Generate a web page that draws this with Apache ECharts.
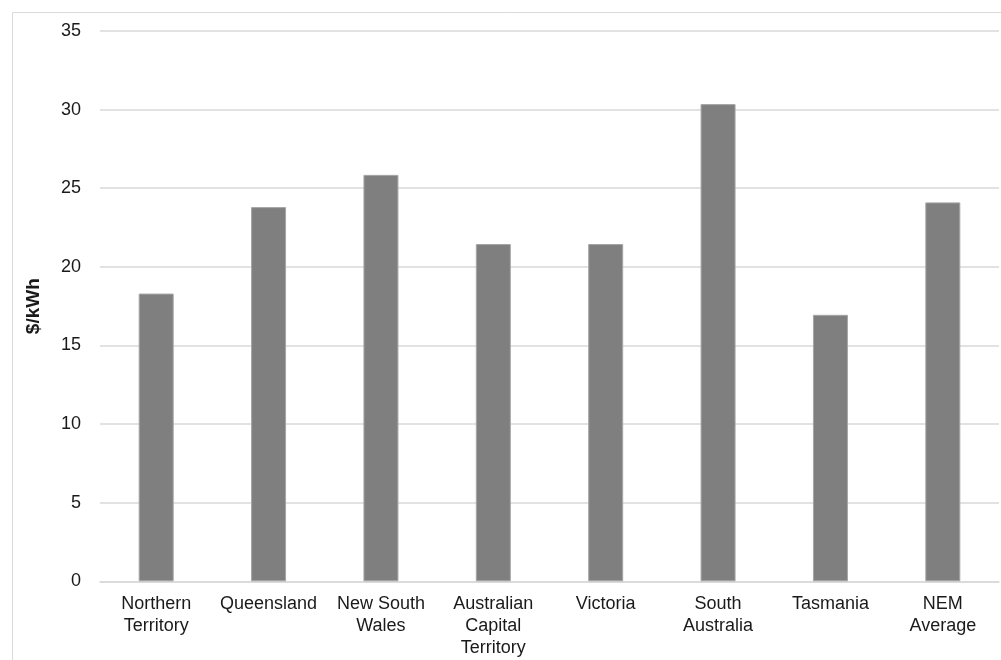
<!DOCTYPE html>
<html>
<head>
<meta charset="utf-8">
<script src="https://cdn.jsdelivr.net/npm/echarts@6/dist/echarts.min.js"></script>
<style>
html,body{margin:0;padding:0;background:#fff;}
#chart{width:1001px;height:660px;}
</style>
</head>
<body>
<div id="chart"></div>
<script>
var categories = ['Northern\nTerritory', 'Queensland', 'New South\nWales', 'Australian\nCapital\nTerritory', 'Victoria', 'South\nAustralia', 'Tasmania', 'NEM\nAverage'];
var values = [18.3, 23.8, 25.85, 21.45, 21.45, 30.35, 16.95, 24.1];
var yTicks = [0, 5, 10, 15, 20, 25, 30, 35];

var font = "'Liberation Sans', Arial, Helvetica, sans-serif";
var chart = echarts.init(document.getElementById('chart'));
chart.setOption({
  animation: false,
  backgroundColor: '#ffffff',
  graphic: [{
    type: 'rect',
    z: -10,
    silent: true,
    shape: { x: 12.5, y: 12.5, width: 1000, height: 700 },
    style: { fill: 'none', stroke: '#d9d9d9', lineWidth: 1 }
  }],
  grid: { left: 100, right: 2, top: 31, bottom: 78.7, containLabel: false },
  xAxis: {
    type: 'category',
    data: categories,
    axisLine: { show: true, lineStyle: { color: '#d9d9d9', width: 1.5 } },
    axisTick: { show: false },
    axisLabel: {
      interval: 0,
      margin: 12,
      fontFamily: font,
      fontSize: 18,
      lineHeight: 22,
      color: '#1a1a1a'
    }
  },
  yAxis: {
    type: 'value',
    min: yTicks[0],
    max: yTicks[yTicks.length - 1],
    interval: 5,
    name: '$/kWh',
    nameLocation: 'middle',
    nameRotate: 90,
    nameGap: 57,
    nameTextStyle: { fontFamily: font, fontSize: 19, fontWeight: 'bold', color: '#1a1a1a' },
    axisLine: { show: false },
    axisTick: { show: false },
    axisLabel: { margin: 19, fontFamily: font, fontSize: 18, color: '#1a1a1a' },
    splitLine: { show: true, lineStyle: { color: '#d9d9d9', width: 1.5 } }
  },
  series: [{
    type: 'bar',
    data: values,
    barWidth: 35,
    itemStyle: { color: '#7f7f7f', borderColor: '#a6a6a6', borderWidth: 1 }
  }]
});
</script>
</body>
</html>
